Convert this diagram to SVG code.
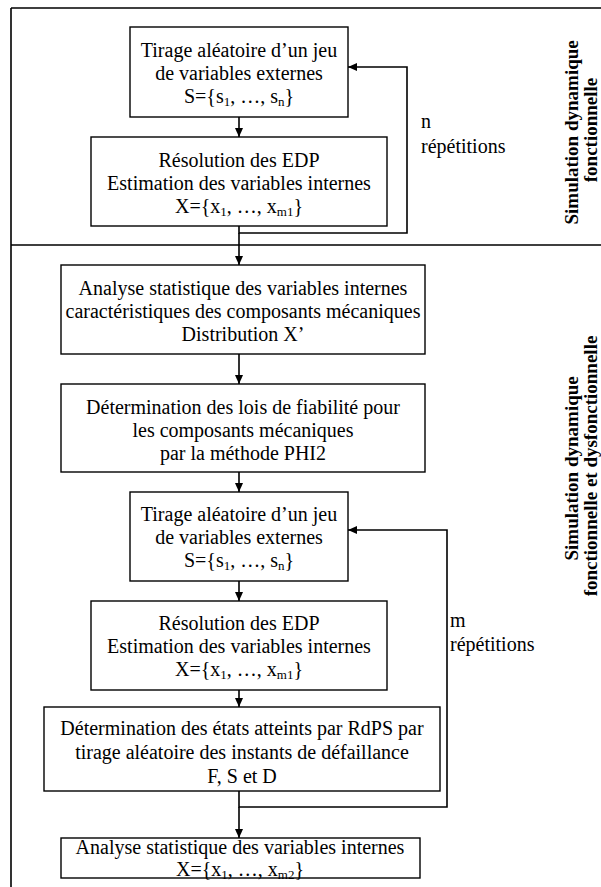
<svg xmlns="http://www.w3.org/2000/svg" width="601" height="887" viewBox="0 0 601 887">
  <defs>
    <marker id="arrow" markerWidth="10" markerHeight="10" refX="9" refY="5" orient="auto" markerUnits="userSpaceOnUse">
      <path d="M0,1 L9,5 L0,9 Z" fill="#000"/>
    </marker>
    <style>
      .frame { fill: none; stroke: #000; stroke-width: 1.6; }
      .box { fill: #fff; stroke: #000; stroke-width: 1.4; }
      .conn { fill: none; stroke: #000; stroke-width: 1.6; marker-end: url(#arrow); }
      .t { font-family: "Liberation Serif", "Times New Roman", serif; font-size: 20px; fill: #000; text-anchor: middle; }
      .lbl { font-family: "Liberation Serif", "Times New Roman", serif; font-size: 20px; fill: #000; }
      .side { font-family: "Liberation Serif", "Times New Roman", serif; font-size: 19px; font-weight: bold; fill: #000; text-anchor: middle; }
      .sub { font-size: 13px; }
    </style>
  </defs>

  <!-- outer frame and section divider -->
  <g id="frame">
    <path class="frame" d="M11,8 H601 M11,8 V887 M11,245 H601"/>
  </g>

  <!-- connectors -->
  <g id="connectors">
    <path class="conn" d="M239,117 V137"/>
    <path class="conn" d="M239,226 V233 H407 V67 H348"/>
    <path class="conn" d="M239,233 V265"/>
    <path class="conn" d="M239,354 V384"/>
    <path class="conn" d="M239,472 V492"/>
    <path class="conn" d="M239,581 V601"/>
    <path class="conn" d="M239,690 V707"/>
    <path class="conn" d="M239,791 V807 H447 V530 H348"/>
    <path class="conn" d="M239,807 V838"/>
  </g>

  <!-- loop labels -->
  <g id="loop-n">
    <text class="lbl" x="421" y="128">n</text>
    <text class="lbl" x="421" y="153">répétitions</text>
  </g>
  <g id="loop-m">
    <text class="lbl" x="450" y="627">m</text>
    <text class="lbl" x="450" y="651">répétitions</text>
  </g>

  <!-- section titles -->
  <g id="section-1">
    <text class="side" transform="translate(578,130) rotate(-90)">
      <tspan x="0" y="0">Simulation dynamique</tspan>
      <tspan x="0" y="19">fonctionnelle</tspan>
    </text>
  </g>
  <g id="section-2">
    <text class="side" transform="translate(578,466) rotate(-90)">
      <tspan x="0" y="0">Simulation dynamique</tspan>
      <tspan x="0" y="19">fonctionnelle et dysfonctionnelle</tspan>
    </text>
  </g>

  <!-- process steps -->
  <g id="tirage-1">
    <rect class="box" x="130" y="27" width="218" height="90"/>
    <text class="t" x="239" y="57">Tirage aléatoire d’un jeu</text>
    <text class="t" x="239" y="80">de variables externes</text>
    <text class="t" x="239" y="103">S={s<tspan class="sub" dy="3">1</tspan><tspan dy="-3">, …, s</tspan><tspan class="sub" dy="3">n</tspan><tspan dy="-3">}</tspan></text>
  </g>

  <g id="resolution-1">
    <rect class="box" x="91" y="137" width="296" height="89"/>
    <text class="t" x="239" y="167">Résolution des EDP</text>
    <text class="t" x="239" y="190">Estimation des variables internes</text>
    <text class="t" x="239" y="213">X={x<tspan class="sub" dy="3">1</tspan><tspan dy="-3">, …, x</tspan><tspan class="sub" dy="3">m1</tspan><tspan dy="-3">}</tspan></text>
  </g>

  <g id="analyse-1">
    <rect class="box" x="61" y="265" width="364" height="89"/>
    <text class="t" x="243" y="295">Analyse statistique des variables internes</text>
    <text class="t" x="243" y="318">caractéristiques des composants mécaniques</text>
    <text class="t" x="243" y="341">Distribution X’</text>
  </g>

  <g id="lois-fiabilite">
    <rect class="box" x="61" y="384" width="364" height="88"/>
    <text class="t" x="243" y="414">Détermination des lois de fiabilité pour</text>
    <text class="t" x="243" y="437">les composants mécaniques</text>
    <text class="t" x="243" y="460">par la méthode PHI2</text>
  </g>

  <g id="tirage-2">
    <rect class="box" x="130" y="492" width="218" height="89"/>
    <text class="t" x="239" y="521">Tirage aléatoire d’un jeu</text>
    <text class="t" x="239" y="544">de variables externes</text>
    <text class="t" x="239" y="567">S={s<tspan class="sub" dy="3">1</tspan><tspan dy="-3">, …, s</tspan><tspan class="sub" dy="3">n</tspan><tspan dy="-3">}</tspan></text>
  </g>

  <g id="resolution-2">
    <rect class="box" x="91" y="601" width="296" height="89"/>
    <text class="t" x="239" y="630">Résolution des EDP</text>
    <text class="t" x="239" y="653">Estimation des variables internes</text>
    <text class="t" x="239" y="676">X={x<tspan class="sub" dy="3">1</tspan><tspan dy="-3">, …, x</tspan><tspan class="sub" dy="3">m1</tspan><tspan dy="-3">}</tspan></text>
  </g>

  <g id="etats-rdps">
    <rect class="box" x="44" y="707" width="396" height="84"/>
    <text class="t" x="242" y="735">Détermination des états atteints par RdPS par</text>
    <text class="t" x="242" y="759">tirage aléatoire des instants de défaillance</text>
    <text class="t" x="242" y="783">F, S et D</text>
  </g>

  <g id="analyse-2">
    <rect class="box" x="61" y="838" width="359" height="40"/>
    <text class="t" x="240" y="854">Analyse statistique des variables internes</text>
    <text class="t" x="240" y="876">X={x<tspan class="sub" dy="3">1</tspan><tspan dy="-3">, …, x</tspan><tspan class="sub" dy="3">m2</tspan><tspan dy="-3">}</tspan></text>
  </g>
</svg>
